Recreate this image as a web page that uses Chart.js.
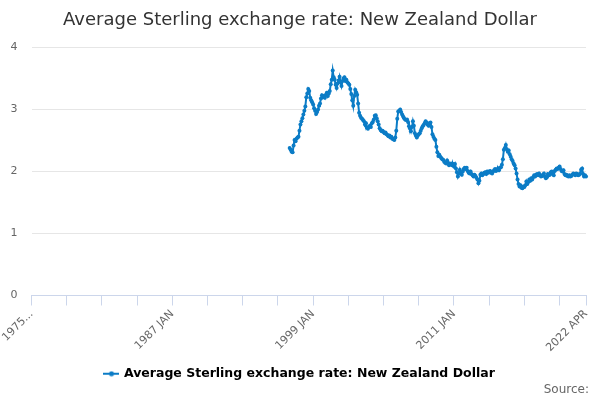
<!DOCTYPE html>
<html>
<head>
<meta charset="utf-8">
<script src="https://cdn.jsdelivr.net/npm/chart.js@4.4.1/dist/chart.umd.min.js"></script>
<style>
  html, body { margin: 0; padding: 0; background: #fff; }
  #wrap { width: 600px; height: 400px; position: relative; }
</style>
</head>
<body>
<div id="wrap"><canvas id="chart" width="600" height="400"></canvas></div>
<script>
// ---- Data ----
const titleText = 'Average Sterling exchange rate: New Zealand Dollar';
const seriesName = 'Average Sterling exchange rate: New Zealand Dollar';
const sourceText = 'Source:';
const monthNames = ['JAN', 'FEB', 'MAR', 'APR', 'MAY', 'JUN', 'JUL', 'AUG', 'SEP', 'OCT', 'NOV', 'DEC'];
const axisStart = { year: 1975, month: 0 };   // 1975 JAN
const axisEnd = { year: 2022, month: 3 };     // 2022 APR
const dataStart = { year: 1997, month: 0 };   // first observation 1997 JAN
const yTicks = [0, 1, 2, 3, 4];

// monthly values, 1997 JAN .. 2022 APR
const rates = [
    // 1997
    2.38, 2.35, 2.32, 2.31, 2.42, 2.51, 2.49, 2.53, 2.55, 2.56, 2.66, 2.76,
    // 1998
    2.81, 2.86, 2.92, 2.98, 3.05, 3.20, 3.26, 3.33, 3.30, 3.19, 3.15, 3.12,
    // 1999
    3.08, 3.02, 2.98, 2.93, 2.96, 3.00, 3.06, 3.10, 3.18, 3.23, 3.20, 3.22,
    // 2000
    3.19, 3.24, 3.27, 3.22, 3.26, 3.30, 3.41, 3.48, 3.63, 3.52, 3.48, 3.40,
    // 2001
    3.35, 3.42, 3.47, 3.53, 3.44, 3.38, 3.46, 3.50, 3.52, 3.46, 3.48, 3.44,
    // 2002
    3.42, 3.40, 3.33, 3.25, 3.15, 3.06, 3.22, 3.32, 3.28, 3.24, 3.10, 2.95,
    // 2003
    2.90, 2.87, 2.85, 2.83, 2.81, 2.76, 2.78, 2.71, 2.69, 2.72, 2.74, 2.72,
    // 2004
    2.78, 2.80, 2.84, 2.90, 2.91, 2.86, 2.81, 2.76, 2.70, 2.67, 2.65, 2.66,
    // 2005
    2.64, 2.62, 2.63, 2.60, 2.59, 2.57, 2.58, 2.55, 2.56, 2.53, 2.52, 2.51,
    // 2006
    2.55, 2.66, 2.85, 2.97, 2.98, 3.00, 2.96, 2.92, 2.89, 2.86, 2.84, 2.83,
    // 2007
    2.84, 2.80, 2.73, 2.70, 2.65, 2.72, 2.81, 2.74, 2.62, 2.58, 2.55, 2.58,
    // 2008
    2.60, 2.62, 2.66, 2.70, 2.73, 2.75, 2.78, 2.81, 2.79, 2.76, 2.74, 2.78,
    // 2009
    2.79, 2.72, 2.60, 2.56, 2.53, 2.51, 2.40, 2.31, 2.25, 2.27, 2.24, 2.22,
    // 2010
    2.20, 2.19, 2.16, 2.14, 2.13, 2.18, 2.14, 2.10, 2.12, 2.13, 2.10, 2.12,
    // 2011
    2.08, 2.12, 2.05, 1.99, 1.92, 1.97, 2.03, 1.98, 1.95, 2.00, 2.04, 2.06,
    // 2012
    2.04, 2.06, 2.01, 1.98, 1.97, 2.00, 1.96, 1.94, 1.92, 1.95, 1.93, 1.90,
    // 2013
    1.87, 1.81, 1.85, 1.95, 1.97, 1.94, 1.96, 1.98, 1.99, 1.96, 2.00, 1.98,
    // 2014
    2.00, 2.01, 1.98, 1.97, 2.00, 2.02, 2.04, 2.01, 2.03, 2.05, 2.02, 2.06,
    // 2015
    2.07, 2.11, 2.20, 2.35, 2.38, 2.43, 2.36, 2.32, 2.34, 2.28, 2.24, 2.20,
    // 2016
    2.17, 2.13, 2.10, 2.05, 1.97, 1.87, 1.80, 1.76, 1.78, 1.74, 1.73, 1.76,
    // 2017
    1.75, 1.78, 1.84, 1.80, 1.83, 1.87, 1.85, 1.89, 1.87, 1.91, 1.94, 1.92,
    // 2018
    1.95, 1.96, 1.94, 1.97, 1.94, 1.92, 1.93, 1.95, 1.97, 1.92, 1.89, 1.91,
    // 2019
    1.96, 1.94, 1.95, 1.99, 2.00, 1.96, 1.94, 2.01, 2.03, 2.05, 2.04, 2.06,
    // 2020
    2.08, 2.04, 2.01, 2.00, 2.02, 1.96, 1.94, 1.95, 1.93, 1.92, 1.94, 1.92,
    // 2021
    1.93, 1.95, 1.97, 1.96, 1.94, 1.97, 1.96, 1.94, 1.95, 1.97, 2.03, 2.05,
    // 2022
    1.96, 1.92, 1.94, 1.92
];

// ---- Build category labels (one per month) ----
const labels = [];
for (let y = axisStart.year; y <= axisEnd.year; y++) {
    for (let m = 0; m < 12; m++) {
        if (y === axisEnd.year && m > axisEnd.month) break;
        labels.push(y + ' ' + monthNames[m]);
    }
}
const offset = (dataStart.year - axisStart.year) * 12 + (dataStart.month - axisStart.month);
const values = labels.map(function (l, i) {
    const k = i - offset;
    return (k >= 0 && k < rates.length) ? rates[k] : null;
});

const lineColor = '#0b7cc6';

// legend symbol: short line with a dot in the middle
function legendSymbol() {
    const c = document.createElement('canvas');
    c.width = 16; c.height = 6;
    const g = c.getContext('2d');
    g.strokeStyle = lineColor;
    g.lineWidth = 2;
    g.beginPath(); g.moveTo(0, 3); g.lineTo(16, 3); g.stroke();
    g.fillStyle = lineColor;
    g.beginPath(); g.arc(8, 3, 2.5, 0, Math.PI * 2); g.fill();
    return c;
}

// small "Source:" note in the bottom right corner
const sourceNote = {
    id: 'sourceNote',
    afterDraw: function (chart) {
        const g = chart.ctx;
        g.save();
        g.font = '12px "DejaVu Sans"';
        g.fillStyle = '#666666';
        g.textAlign = 'right';
        g.textBaseline = 'middle';
        g.fillText(sourceText, chart.width - 11, chart.height - 10);
        g.restore();
    }
};

const ctx = document.getElementById('chart').getContext('2d');
new Chart(ctx, {
    type: 'line',
    data: {
        labels: labels,
        datasets: [{
            label: seriesName,
            data: values,
            borderColor: lineColor,
            backgroundColor: lineColor,
            borderWidth: 2,
            pointRadius: 2,
            pointBorderWidth: 0,
            pointBackgroundColor: lineColor,
            tension: 0
        }]
    },
    plugins: [sourceNote],
    options: {
        responsive: false,
        animation: false,
        layout: { padding: { top: 8, right: 0, bottom: 10, left: 0 } },
        scales: {
            x: {
                type: 'category',
                offset: false,
                afterBuildTicks: function (axis) {
                    const t = [];
                    for (let i = 0; i < labels.length; i += 36) t.push({ value: i });
                    t.push({ value: labels.length - 1 });
                    axis.ticks = t;
                },
                afterFit: function (axis) { axis.height = 71; },
                ticks: {
                    autoSkip: false,
                    maxRotation: 45,
                    minRotation: 45,
                    color: '#666666',
                    font: { family: 'DejaVu Sans', size: 11 },
                    padding: 2,
                    callback: function (value, index) {
                        const last = labels.length - 1;
                        if (value === 0) return '1975...';
                        if (value === last || value % 144 === 0) return labels[value];
                        return '';
                    }
                },
                grid: {
                    drawOnChartArea: false,
                    drawTicks: true,
                    tickLength: 10,
                    color: '#ccd6eb'
                },
                border: { display: true, color: '#ccd6eb', width: 1 }
            },
            y: {
                min: 0,
                max: 4,
                afterBuildTicks: function (axis) {
                    axis.ticks = yTicks.map(function (v) { return { value: v }; });
                },
                afterFit: function (axis) { axis.width = 31.5; },
                ticks: {
                    color: '#666666',
                    font: { family: 'DejaVu Sans', size: 11 },
                    padding: 14
                },
                grid: { color: '#e6e6e6', drawTicks: false },
                border: { display: false }
            },
            // empty right-hand margin so the plot ends where the reference does
            yRight: {
                axis: 'y',
                position: 'right',
                min: 0,
                max: 4,
                afterFit: function (axis) { axis.width = 14; },
                ticks: { display: false },
                grid: { display: false, drawTicks: false },
                border: { display: false }
            }
        },
        plugins: {
            title: {
                display: true,
                text: titleText,
                color: '#333333',
                font: { family: 'DejaVu Sans', size: 18, weight: 'normal' },
                padding: { top: 2, bottom: 16 }
            },
            legend: {
                position: 'bottom',
                labels: {
                    color: '#333333',
                    font: { family: 'DejaVu Sans', size: 12.5, weight: 'bold' },
                    usePointStyle: true,
                    boxWidth: 16,
                    padding: 1,
                    generateLabels: function (chart) {
                        const ds = chart.data.datasets[0];
                        return [{
                            text: ds.label,
                            pointStyle: legendSymbol(),
                            fillStyle: lineColor,
                            strokeStyle: lineColor,
                            lineWidth: 0,
                            datasetIndex: 0
                        }];
                    }
                }
            },
            tooltip: { enabled: false }
        }
    }
});
</script>
</body>
</html>
